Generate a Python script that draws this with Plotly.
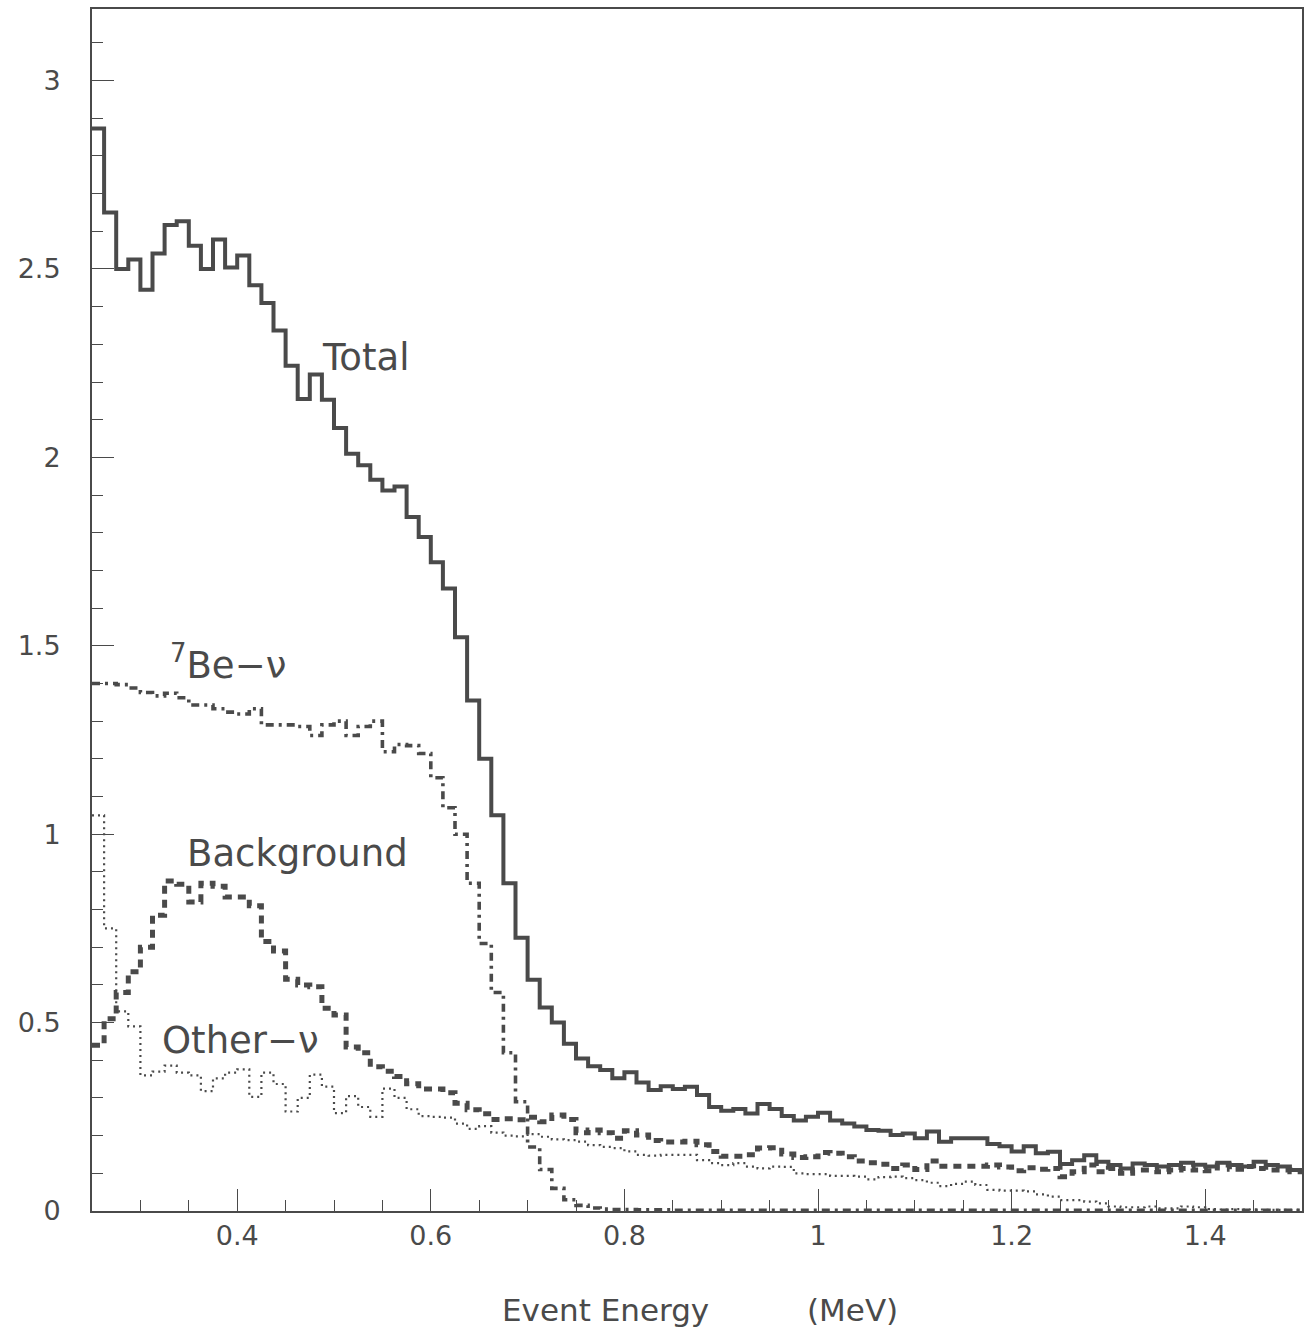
import numpy as np
import plotly.graph_objects as go

# ---- binning (100 bins, 0.25 .. 1.5 MeV) ----
e_min, e_max, n_bins = 0.25, 1.5, 100
edges = np.linspace(e_min, e_max, n_bins + 1)

total = [2.873, 2.650, 2.500, 2.525, 2.445, 2.541, 2.617, 2.627, 2.562, 2.500,
         2.578, 2.504, 2.536, 2.457, 2.410, 2.337, 2.243, 2.155, 2.220, 2.153,
         2.078, 2.010, 1.979, 1.941, 1.912, 1.923, 1.842, 1.789, 1.722, 1.652,
         1.523, 1.355, 1.200, 1.050, 0.870, 0.725, 0.614, 0.540, 0.500, 0.444,
         0.405, 0.384, 0.374, 0.352, 0.368, 0.341, 0.321, 0.331, 0.324, 0.330,
         0.308, 0.276, 0.266, 0.271, 0.259, 0.284, 0.271, 0.252, 0.240, 0.250,
         0.261, 0.240, 0.232, 0.224, 0.215, 0.213, 0.202, 0.206, 0.193, 0.211,
         0.184, 0.193, 0.193, 0.193, 0.178, 0.172, 0.158, 0.172, 0.153, 0.157,
         0.125, 0.135, 0.148, 0.131, 0.122, 0.113, 0.126, 0.122, 0.118, 0.122,
         0.128, 0.123, 0.118, 0.128, 0.122, 0.118, 0.131, 0.122, 0.118, 0.109]

be7 = [1.400, 1.400, 1.397, 1.388, 1.376, 1.367, 1.374, 1.362, 1.343, 1.343,
       1.333, 1.324, 1.319, 1.333, 1.290, 1.290, 1.290, 1.286, 1.262, 1.290,
       1.300, 1.262, 1.286, 1.300, 1.219, 1.238, 1.235, 1.214, 1.150, 1.070,
       1.000, 0.870, 0.710, 0.580, 0.420, 0.290, 0.170, 0.110, 0.060, 0.030,
       0.015, 0.008, 0.005, 0.004, 0.004, 0.003, 0.003, 0.003, 0.002, 0.002,
       0.002, 0.002, 0.002, 0.002, 0.002, 0.002, 0.002, 0.002, 0.002, 0.002,
       0.002, 0.002, 0.002, 0.002, 0.002, 0.002, 0.002, 0.002, 0.002, 0.002,
       0.002, 0.002, 0.002, 0.002, 0.002, 0.002, 0.002, 0.002, 0.002, 0.002,
       0.002, 0.002, 0.002, 0.002, 0.002, 0.002, 0.002, 0.002, 0.002, 0.002,
       0.002, 0.002, 0.002, 0.002, 0.002, 0.002, 0.002, 0.002, 0.002, 0.002]

background = [0.440, 0.510, 0.580, 0.635, 0.700, 0.785, 0.876, 0.867, 0.820, 0.870,
              0.862, 0.833, 0.833, 0.810, 0.715, 0.690, 0.615, 0.600, 0.595, 0.538,
              0.520, 0.435, 0.420, 0.383, 0.371, 0.357, 0.338, 0.324, 0.324, 0.314,
              0.286, 0.269, 0.258, 0.243, 0.245, 0.242, 0.249, 0.237, 0.255, 0.243,
              0.208, 0.215, 0.208, 0.193, 0.213, 0.202, 0.187, 0.183, 0.183, 0.185,
              0.176, 0.158, 0.145, 0.145, 0.149, 0.167, 0.168, 0.151, 0.142, 0.144,
              0.155, 0.153, 0.144, 0.133, 0.128, 0.124, 0.113, 0.122, 0.110, 0.133,
              0.119, 0.119, 0.119, 0.119, 0.122, 0.117, 0.107, 0.115, 0.111, 0.113,
              0.091, 0.104, 0.122, 0.104, 0.113, 0.100, 0.109, 0.109, 0.104, 0.109,
              0.113, 0.109, 0.107, 0.122, 0.111, 0.118, 0.113, 0.109, 0.109, 0.104]

other = [1.050, 0.750, 0.530, 0.490, 0.360, 0.370, 0.386, 0.367, 0.360, 0.318,
         0.352, 0.367, 0.376, 0.303, 0.367, 0.337, 0.264, 0.300, 0.362, 0.330,
         0.260, 0.305, 0.276, 0.250, 0.325, 0.300, 0.270, 0.252, 0.250, 0.248,
         0.232, 0.218, 0.225, 0.208, 0.200, 0.198, 0.204, 0.197, 0.190, 0.188,
         0.184, 0.175, 0.170, 0.167, 0.158, 0.149, 0.147, 0.149, 0.149, 0.149,
         0.135, 0.127, 0.122, 0.127, 0.118, 0.113, 0.118, 0.117, 0.100, 0.098,
         0.098, 0.093, 0.093, 0.091, 0.084, 0.090, 0.091, 0.087, 0.082, 0.075,
         0.066, 0.072, 0.078, 0.069, 0.056, 0.054, 0.054, 0.052, 0.044, 0.038,
         0.029, 0.029, 0.025, 0.020, 0.012, 0.010, 0.010, 0.012, 0.007, 0.007,
         0.012, 0.010, 0.005, 0.004, 0.005, 0.004, 0.004, 0.003, 0.003, 0.003]

x_tickvals = [0.4, 0.6, 0.8, 1.0, 1.2, 1.4]
x_ticktext = ["0.4", "0.6", "0.8", "1", "1.2", "1.4"]
y_tickvals = [0, 0.5, 1, 1.5, 2, 2.5, 3]
y_ticktext = ["0", "0.5", "1", "1.5", "2", "2.5", "3"]

INK = "#4a4a4a"
FONT = "DejaVu Sans"


def step_xy(vals):
    xs = list(edges)
    ys = list(vals) + [vals[-1]]
    return xs, ys


fig = go.Figure()
series = [
    (other, dict(color=INK, width=2.2, dash="2px,4px")),
    (be7, dict(color=INK, width=3.6, dash="8px,5px,3px,5px")),
    (background, dict(color=INK, width=5, dash="8px,6px")),
    (total, dict(color=INK, width=4)),
]
for vals, ln in series:
    xs, ys = step_xy(vals)
    fig.add_trace(go.Scatter(x=xs, y=ys, mode="lines", line_shape="hv",
                             line=ln, showlegend=False, hoverinfo="skip"))

labels = [
    ("Total", 0.4858, 2.265),
    ("<sup>7</sup>Be\u2212\u03bd", 0.3286, 1.456),
    ("Background", 0.3462, 0.950),
    ("Other\u2212\u03bd", 0.3203, 0.4536),
]
for txt, xv, yv in labels:
    fig.add_annotation(x=xv, y=yv, xref="x", yref="y", text=txt, showarrow=False,
                       xanchor="left", yanchor="middle",
                       font=dict(family=FONT, size=37, color=INK))

fig.add_annotation(x=0.7805, y=-0.082, xref="x", yref="paper", text="Event Energy",
                   showarrow=False, xanchor="center", yanchor="middle",
                   font=dict(family=FONT, size=31, color=INK))
fig.add_annotation(x=1.036, y=-0.082, xref="x", yref="paper", text="(MeV)",
                   showarrow=False, xanchor="center", yanchor="middle",
                   font=dict(family=FONT, size=31, color=INK))

fig.update_xaxes(range=[e_min, e_max], tickvals=x_tickvals, ticktext=x_ticktext,
                 ticks="inside", ticklen=22, tickwidth=1, tickcolor=INK,
                 minor=dict(ticks="inside", ticklen=11, dtick=0.05, tick0=0.25,
                            tickcolor=INK, tickwidth=1),
                 showline=True, linecolor=INK, linewidth=2, mirror=True,
                 showgrid=False, zeroline=False, automargin=False,
                 tickfont=dict(family=FONT, size=27, color=INK),
                 ticklabelstandoff=0)
fig.update_yaxes(range=[0, 3.19], tickvals=y_tickvals, ticktext=y_ticktext,
                 ticks="inside", ticklen=22, tickwidth=1, tickcolor=INK,
                 minor=dict(ticks="inside", ticklen=11, dtick=0.1, tick0=0,
                            tickcolor=INK, tickwidth=1),
                 showline=True, linecolor=INK, linewidth=2, mirror=True,
                 showgrid=False, zeroline=False, automargin=False,
                 tickfont=dict(family=FONT, size=27, color=INK),
                 ticklabelstandoff=24)

# plot area at x 92..1302, y 9..1211 of the 1304x1334 window
fig.update_layout(width=1304, height=1334,
                  margin=dict(l=92, r=2, t=9, b=123),
                  paper_bgcolor="white", plot_bgcolor="white")

fig.write_html("out.html",
               config={"displayModeBar": False},
               post_script="document.body.style.margin='0';"
                           "document.body.style.overflow='hidden';")
